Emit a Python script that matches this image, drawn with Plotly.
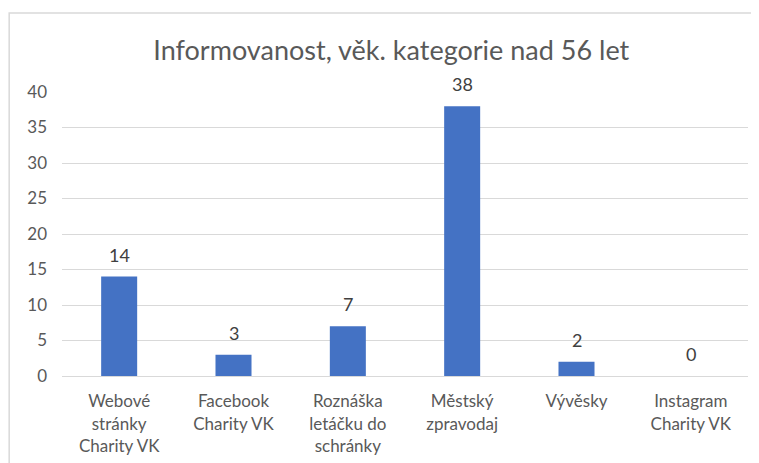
import plotly.graph_objects as go

categories = ['Webové<br>stránky<br>Charity VK', 'Facebook<br>Charity VK', 'Roznáška<br>letáčku do<br>schránky',
              'Městský<br>zpravodaj', 'Vývěsky', 'Instagram<br>Charity VK']
values = [14, 3, 7, 38, 2, 0]
y_ticks = [0, 5, 10, 15, 20, 25, 30, 35, 40]

fig = go.Figure()
fig.add_trace(go.Bar(
    x=categories, y=values,
    marker=dict(color='#4472C4', line=dict(width=0)),
))

# data labels above the bars
for c, v in zip(categories, values):
    fig.add_annotation(x=c, y=v, text=str(v), showarrow=False, yanchor='bottom', yshift=9,
                       font=dict(size=18, color='#404040'))

# chart border like excel
fig.add_shape(type='rect', xref='paper', yref='paper',
              x0=-0.077, x1=1.3, y0=-0.6, y1=1.278,
              line=dict(color='#d9d9d9', width=1.5), layer='below')

fig.update_layout(
    width=759, height=463,
    margin=dict(l=54, r=19, t=84, b=95),
    paper_bgcolor='white', plot_bgcolor='white',
    font=dict(family='Lato, sans-serif', color='#595959'),
    title=dict(text='Informovanost, věk. kategorie nad 56 let', x=0.505, xanchor='center',
               y=0.909, yanchor='middle', font=dict(size=27, color='#595959')),
    bargap=0.685,
    showlegend=False,
    xaxis=dict(showline=True, linecolor='#d9d9d9', linewidth=1, tickfont=dict(size=17, color='#595959'),
               ticks='', ticklen=0, ticklabelstandoff=10),
    yaxis=dict(range=[0, 40], tickvals=y_ticks, showgrid=True, gridcolor='#d9d9d9', gridwidth=1,
               zeroline=False, tickfont=dict(size=17, color='#595959'), ticklabelstandoff=14),
)

fig.write_html('out.html')
